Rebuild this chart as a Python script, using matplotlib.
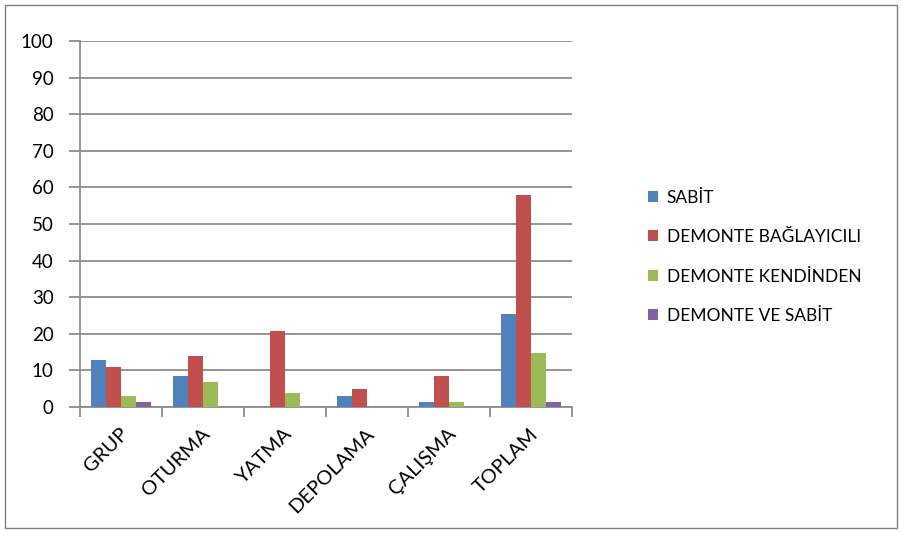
import numpy as np
import matplotlib.pyplot as plt
from matplotlib.patches import Rectangle
from matplotlib.transforms import ScaledTranslation

plt.rcParams['font.family'] = ['Lato', 'DejaVu Sans']

categories = ['GRUP', 'OTURMA', 'YATMA', 'DEPOLAMA', 'ÇALIŞMA', 'TOPLAM']
series_names = ['SABİT', 'DEMONTE BAĞLAYICILI', 'DEMONTE KENDİNDEN', 'DEMONTE VE SABİT']
sabit = [12.9, 8.5, 0, 3.0, 1.5, 25.3]
baglayicili = [10.9, 13.8, 20.9, 4.9, 8.6, 57.9]
kendinden = [3.0, 6.8, 3.8, 0, 1.5, 14.8]
ve_sabit = [1.5, 0, 0, 0, 0, 1.5]
colors = ['#4F81BD', '#C0504D', '#9BBB59', '#8064A2']

fig = plt.figure(figsize=(9.02, 5.33), dpi=100)
ax = fig.add_axes([80 / 902, 1 - 407 / 533, 492 / 902, 366 / 533])

# outer frame of the chart
fig.patches.append(Rectangle((5 / 902, 5 / 533), 892 / 902, 523 / 533,
                             transform=fig.transFigure, fill=False,
                             edgecolor='#7f7f7f', linewidth=1.0))

x = np.arange(len(categories))
w = 1 / 5.5
for i, (vals, name) in enumerate(zip([sabit, baglayicili, kendinden, ve_sabit], series_names)):
    ax.bar(x + (i - 1.5) * w, vals, width=w, color=colors[i], label=name, zorder=3)

ax.set_xlim(-0.5, len(categories) - 0.5)
ax.set_ylim(0, 100)
ax.set_yticks(range(0, 101, 10))
ax.yaxis.grid(True, color='#8c8c8c', linewidth=1.3, zorder=0)

ax.set_xticks(x)
ax.set_xticklabels(categories, rotation=45, ha='right', rotation_mode='anchor', fontsize=14.5)
ax.set_xticks(np.arange(-0.5, len(categories)), minor=True)
ax.tick_params(axis='x', which='major', length=0, pad=13)
ax.tick_params(axis='x', which='minor', length=7, color='#8c8c8c', width=1.3)
ax.tick_params(axis='y', length=8, color='#8c8c8c', width=1.3, labelsize=13.5, pad=11)

# small shift of the rotated labels
for lab in ax.get_xticklabels():
    lab.set_transform(lab.get_transform() + ScaledTranslation(-2 / 100, 0, fig.dpi_scale_trans))

for s in ['top', 'right']:
    ax.spines[s].set_visible(False)
for s in ['left', 'bottom']:
    ax.spines[s].set_color('#8c8c8c')
    ax.spines[s].set_linewidth(1.3)

fig.legend(loc='upper left', bbox_to_anchor=(632 / 902, 1 - 174 / 533), frameon=False,
           fontsize=12.5, handlelength=0.6, handleheight=0.6, handletextpad=0.5,
           labelspacing=1.35)

fig.savefig('out.png', dpi=100)
